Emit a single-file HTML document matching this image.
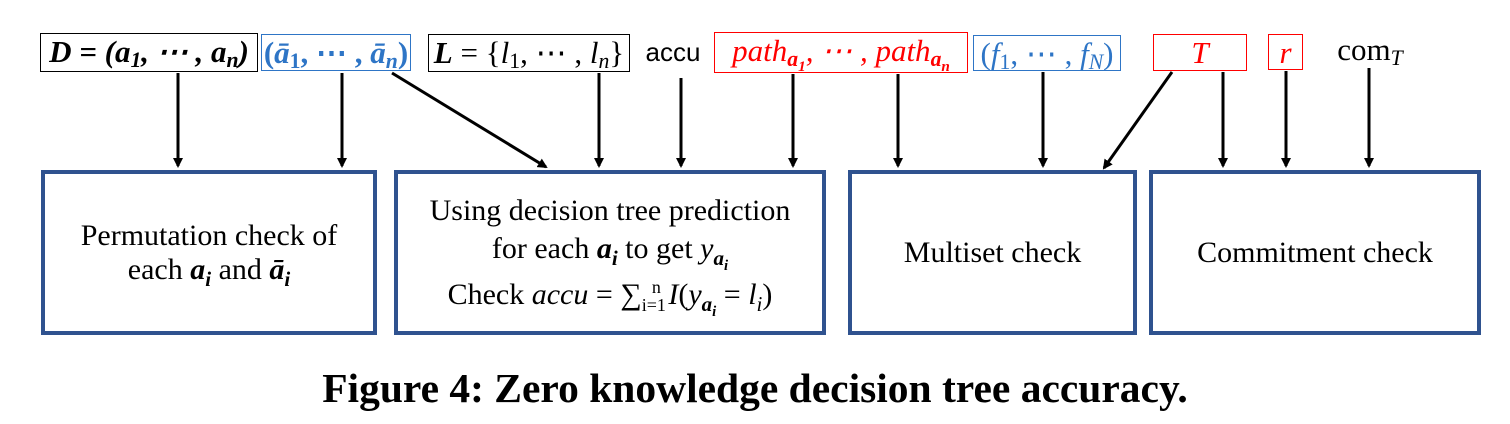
<!DOCTYPE html>
<html><head><meta charset="utf-8"><style>
body{margin:0;background:#fff;width:1510px;height:424px;overflow:hidden;position:relative;font-family:"Liberation Serif",serif}
.tb{position:absolute;box-sizing:border-box;border:1.5px solid #000;font-size:31px;line-height:36px;text-align:center;font-style:italic;white-space:nowrap}
.tb sub{font-size:70%;vertical-align:-5px;line-height:0}
.bb{position:absolute;box-sizing:border-box;border:4px solid #2f528f;display:flex;align-items:center;justify-content:center;text-align:center;font-size:30px;line-height:34px;white-space:nowrap}
.bb sub{font-size:70%;line-height:0}
.cap{position:absolute;left:0;width:1510px;top:364px;text-align:center;font-weight:bold;font-size:41.5px}
</style></head><body>
<div class="tb" style="left:40px;top:33px;width:218px;height:39px;font-weight:bold">D = (a<sub>1</sub>, ⋯ , a<sub>n</sub>)</div>
<div class="tb" style="left:261px;top:34px;width:150px;height:37px;border-color:#2e75c6;color:#2e75c6;font-weight:bold;font-style:normal">(<i>ā</i><sub>1</sub>, ⋯ , <i>ā<sub>n</sub></i>)</div>
<div class="tb" style="left:428px;top:34px;width:202px;height:38px;font-style:normal"><b><i>L</i></b> = {<i>l</i><sub>1</sub>, ⋯ , <i>l<sub>n</sub></i>}</div>
<div class="tb" style="left:636px;top:34px;width:74px;height:38px;border:none;font-style:normal;font-family:'Liberation Sans',sans-serif;font-size:26px">accu</div>
<div class="tb" style="left:714px;top:32px;width:254px;height:41px;border-color:#f00;color:#f00">path<sub><b>a<sub style="font-size:70%">1</sub></b></sub>, ⋯ , path<sub><b>a<sub style="font-size:70%">n</sub></b></sub></div>
<div class="tb" style="left:973px;top:35px;width:148px;height:36px;border-color:#2e75c6;color:#2e75c6;font-style:normal">(<i>f</i><sub>1</sub>, ⋯ , <i>f<sub>N</sub></i>)</div>
<div class="tb" style="left:1153px;top:34px;width:94px;height:37px;border-color:#f00;color:#f00">T</div>
<div class="tb" style="left:1268px;top:34px;width:35px;height:36px;border-color:#f00;color:#f00">r</div>
<div class="tb" style="left:1325px;top:32px;width:90px;height:38px;border:none;font-style:normal">com<sub><i>T</i></sub></div>
<svg style="position:absolute;left:0;top:0" width="1510" height="424">
<defs><marker id="ah" markerWidth="10" markerHeight="10" refX="8" refY="5" orient="auto" markerUnits="userSpaceOnUse"><path d="M0,0 L10,5 L0,10 z" fill="#000"/></marker></defs>
<g stroke="#000" stroke-width="3" marker-end="url(#ah)">
<line x1="178" y1="73" x2="178" y2="166"/><line x1="342" y1="73" x2="342" y2="166"/>
<line x1="392" y1="73" x2="546" y2="167"/><line x1="599" y1="73" x2="599" y2="166"/>
<line x1="681" y1="78" x2="681" y2="166"/><line x1="793" y1="74" x2="793" y2="166"/>
<line x1="898" y1="74" x2="898" y2="166"/><line x1="1043" y1="72" x2="1043" y2="166"/>
<line x1="1172" y1="72" x2="1104" y2="168"/><line x1="1223" y1="72" x2="1223" y2="166"/>
<line x1="1286" y1="71" x2="1286" y2="166"/><line x1="1369" y1="68" x2="1369" y2="166"/>
</g></svg>
<div class="bb" style="left:41px;top:170px;width:336px;height:165px"><div>Permutation check of<br>each <b><i>a<sub>i</sub></i></b> and <b><i>ā<sub>i</sub></i></b></div></div>
<div class="bb" style="left:394px;top:170px;width:432px;height:165px;line-height:38px"><div>Using decision tree prediction<br>for each <b><i>a<sub>i</sub></i></b> to get <i>y<sub><b>a<sub style="font-size:70%">i</sub></b></sub></i><br>Check <i>accu</i> = ∑<sub style="font-size:60%">i=1</sub><sup style="font-size:60%;margin-left:-14px">n</sup> <i>I</i>(<i>y<sub><b>a<sub style="font-size:70%">i</sub></b></sub></i> = <i>l<sub>i</sub></i>)</div></div>
<div class="bb" style="left:848px;top:170px;width:289px;height:165px"><div>Multiset check</div></div>
<div class="bb" style="left:1149px;top:170px;width:332px;height:165px"><div>Commitment check</div></div>
<div class="cap">Figure 4: Zero knowledge decision tree accuracy.</div>
</body></html>
